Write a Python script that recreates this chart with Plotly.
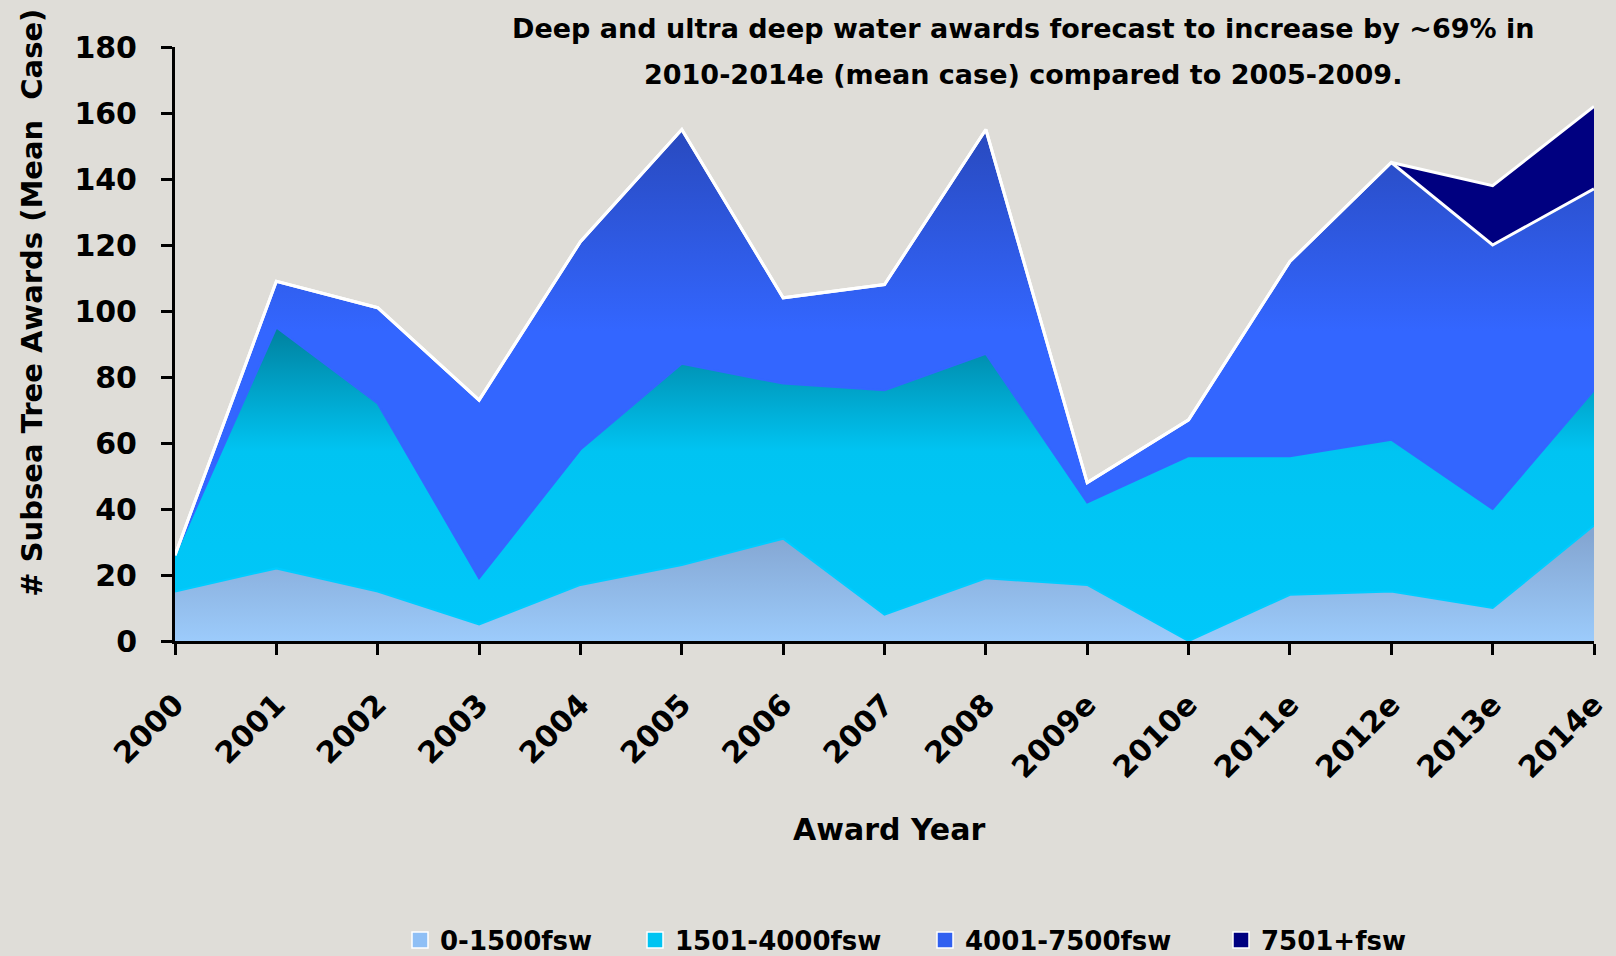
import plotly.graph_objects as go

years = ["2000", "2001", "2002", "2003", "2004", "2005", "2006", "2007", "2008",
         "2009e", "2010e", "2011e", "2012e", "2013e", "2014e"]
s_0_1500 = [15, 22, 15, 5, 17, 23, 31, 8, 19, 17, 0, 14, 15, 10, 35]
s_1501_4000 = [11, 73, 57, 14, 41, 61, 47, 68, 68, 25, 56, 42, 46, 30, 41]
s_4001_7500 = [0, 14, 29, 54, 63, 71, 26, 32, 68, 6, 11, 59, 84, 80, 61]
s_7501_plus = [0, 0, 0, 0, 0, 0, 0, 0, 0, 0, 0, 0, 0, 18, 25]
series_names = ["0-1500fsw", "1501-4000fsw", "4001-7500fsw", "7501+fsw"]

FONT = "DejaVu Sans"
legend_colors = ["#8fbff5", "#00c4f2", "#3060f0", "#000080"]
legend_px = [420, 655, 945, 1241]  # legend symbol centres (px)

fig = go.Figure()
fig.add_trace(go.Scatter(
    x=years, y=s_0_1500, name=series_names[0], stackgroup="one", mode="lines",
    legendgroup="g0", showlegend=False,
    line=dict(color="#00ccff", width=2),
    fillgradient=dict(type="vertical", start=0, stop=32,
                      colorscale=[[0, "#9ccbfb"], [1, "#84a6d2"]]),
))
fig.add_trace(go.Scatter(
    x=years, y=s_1501_4000, name=series_names[1], stackgroup="one", mode="lines",
    legendgroup="g1", showlegend=False,
    line=dict(color="#3366ff", width=2),
    fillgradient=dict(type="vertical", start=0, stop=96,
                      colorscale=[[0, "#00c8fa"], [0.6, "#00c4f2"], [1, "#007f9c"]]),
))
fig.add_trace(go.Scatter(
    x=years, y=s_4001_7500, name=series_names[2], stackgroup="one", mode="lines",
    legendgroup="g2", showlegend=False,
    line=dict(color="white", width=3),
    fillgradient=dict(type="vertical", start=94, stop=158,
                      colorscale=[[0, "#3366ff"], [1, "#2848bb"]]),
))
fig.add_trace(go.Scatter(
    x=years, y=s_7501_plus, name=series_names[3], stackgroup="one", mode="lines",
    legendgroup="g3", showlegend=False,
    line=dict(color="white", width=3),
    fillcolor="#000080",
))

# legend entries (square swatches), each in its own legend box
legend_layouts = {}
for i, (nm, col, px) in enumerate(zip(series_names, legend_colors, legend_px)):
    key = "legend" if i == 0 else f"legend{i + 1}"
    fig.add_trace(go.Scatter(
        x=[years[0]], y=[None], mode="markers", name=nm, legendgroup=f"g{i}",
        legend=key, showlegend=True, hoverinfo="skip",
        marker=dict(symbol="square", size=16, color=col, line=dict(color="white", width=1.5)),
    ))
    legend_layouts[key] = dict(
        x=(px - 20) / 1616, xref="container", xanchor="left",
        y=1 - 940 / 956, yref="container", yanchor="middle", orientation="h",
        font=dict(family=FONT, size=26, weight="bold", color="black"),
        bgcolor="rgba(0,0,0,0)", borderwidth=0,
    )

fig.update_layout(
    width=1616, height=956,
    margin=dict(l=175, r=22, t=47, b=315, autoexpand=False),
    paper_bgcolor="#dfddd8",
    plot_bgcolor="rgba(0,0,0,0)",
    font=dict(family=FONT, color="black", size=30, weight="bold"),
    showlegend=True,
    xaxis=dict(type="category", categoryorder="array", categoryarray=years,
               range=[0, 14], showgrid=False, zeroline=False, automargin=False,
               showline=True, linecolor="black", linewidth=3,
               ticks="outside", ticklen=11, tickwidth=3, tickcolor="black",
               tickangle=-45, ticklabelstandoff=20,
               tickfont=dict(family=FONT, size=30, weight="bold")),
    yaxis=dict(range=[0, 180], dtick=20, showgrid=False, zeroline=False, automargin=False,
               showline=True, linecolor="black", linewidth=3,
               ticks="outside", ticklen=11, tickwidth=3, tickcolor="black",
               ticklabelstandoff=18,
               tickfont=dict(family=FONT, size=30, weight="bold")),
    annotations=[
        dict(text="Deep and ultra deep water awards forecast to increase by ~69% in",
             xref="paper", yref="paper", x=0.5976, y=1.031, xanchor="center", yanchor="middle",
             showarrow=False, font=dict(family=FONT, size=27, weight="bold")),
        dict(text="2010-2014e (mean case) compared to 2005-2009.",
             xref="paper", yref="paper", x=0.5976, y=0.9545, xanchor="center", yanchor="middle",
             showarrow=False, font=dict(family=FONT, size=27, weight="bold")),
        dict(text="# Subsea Tree Awards (Mean  Case)", textangle=-90,
             xref="paper", yref="paper", x=-0.101, y=0.569, xanchor="center", yanchor="middle",
             showarrow=False, font=dict(family=FONT, size=29, weight="bold")),
        dict(text="Award Year",
             xref="paper", yref="paper", x=0.503, y=-0.318, xanchor="center", yanchor="middle",
             showarrow=False, font=dict(family=FONT, size=30, weight="bold")),
    ],
    **legend_layouts,
)

fig.write_html("out.html", config={"displayModeBar": False},
               post_script="document.body.style.margin='0px';document.body.style.overflow='hidden';")
